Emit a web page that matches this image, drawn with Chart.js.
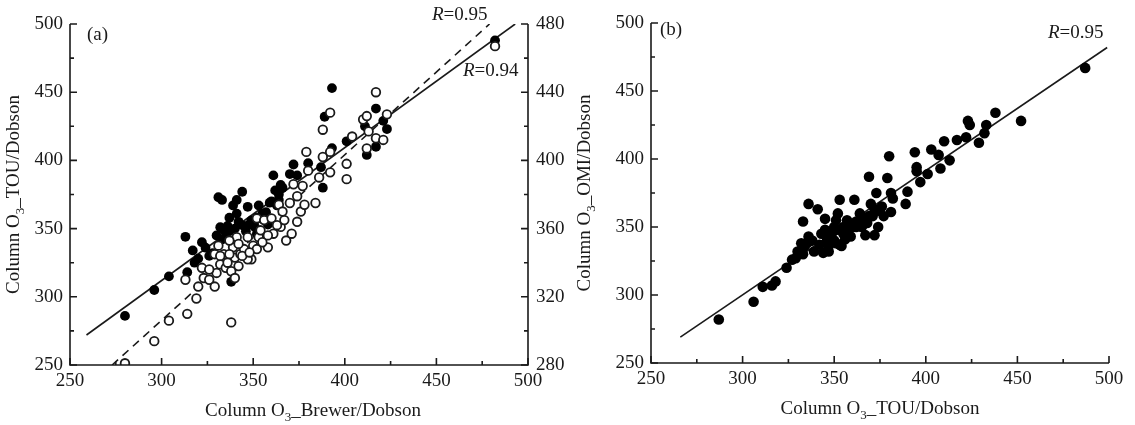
<!DOCTYPE html>
<html>
<head>
<meta charset="utf-8">
<script src="https://cdn.jsdelivr.net/npm/chart.js@4.4.1/dist/chart.umd.min.js"></script>
<style>
  body { margin: 0; background: #fff; }
  #wrapA { position: absolute; left: 0; top: 0; width: 567px; height: 425px; }
  #wrapB { position: absolute; left: 567px; top: 0; width: 568px; height: 425px; }
</style>
</head>
<body>
<div id="wrapA"><canvas id="chartA" width="567" height="425"></canvas></div>
<div id="wrapB"><canvas id="chartB" width="568" height="425"></canvas></div>
<script>
// ticks
const xTicks = [250, 300, 350, 400, 450, 500];
const yTicks = [250, 300, 350, 400, 450, 500];
const y2Ticks = [280, 320, 360, 400, 440, 480];

// (a) Brewer/Dobson vs TOU (filled, left axis)
const touX = [280, 296, 304, 313, 314, 317, 320, 322, 324, 326, 330, 331, 333, 332, 335, 337, 338, 339,
  341, 342, 344, 346, 347, 349, 351, 353, 355, 359, 361, 364, 365, 370, 372, 374, 380, 387, 388, 389,
  393, 393, 401, 412, 411, 417, 417, 423, 421, 482, 337, 341, 351, 362, 352, 358, 364,
  333, 336, 340, 343, 345, 348, 352, 355, 357, 363, 333, 328, 318, 366, 360];
const touY = [286, 305, 315, 344, 318, 334, 328, 340, 336, 330, 345, 373, 371, 351, 347, 348, 311, 367,
  371, 355, 377, 348, 366, 356, 351, 367, 361, 369, 389, 375, 382, 390, 397, 389, 398, 395, 380, 432,
  453, 409, 414, 404, 425, 438, 410, 423, 429, 488, 358, 361, 356, 378, 346, 353, 371,
  350, 352, 350, 353, 352, 353, 358, 357, 362, 367, 342, 332, 325, 380, 370];

// (a) Brewer/Dobson vs OMI (open, right axis)
const omiX = [280, 296, 304, 314, 313, 319, 320, 322, 323, 326, 329, 330, 331, 332, 334, 335, 338, 338,
  339, 340, 341, 342, 343, 345, 347, 349, 350, 352, 353, 354, 356, 358, 360, 361, 364, 365, 366, 368,
  370, 371, 372, 374, 374, 376, 377, 378, 379, 380, 384, 386, 388, 388, 392, 392, 392, 401, 401, 404,
  410, 412, 412, 413, 417, 417, 421, 423, 482, 329, 337, 342, 347, 352, 337,
  332, 336, 344, 348, 355, 358, 363, 367, 326, 340];
const omiY = [281, 294, 306, 310, 330, 319, 326, 337, 331, 330, 326, 334, 350, 339, 345, 337, 305, 335,
  349, 343, 355, 338, 345, 348, 355, 342, 350, 366, 355, 359, 365, 349, 366, 357, 374, 361, 370, 353,
  375, 357, 386, 379, 364, 370, 385, 374, 405, 394, 375, 390, 402, 418, 428, 405, 393, 398, 389, 414,
  424, 426, 407, 417, 440, 413, 412, 427, 467, 345, 345, 351, 342, 348, 353,
  344, 340, 344, 346, 352, 356, 362, 365, 336, 331];

// regression lines (a)
const fitTouX = [259, 493];
const fitTouY = [272, 500];
const fitOmiX = [273, 479];
const fitOmiY = [280, 480];

// (b) TOU vs OMI
const bX = [287, 306, 311, 316, 318, 324, 327, 329, 330, 333, 333, 332, 334, 336, 336, 336, 339, 341,
  344, 345, 345, 346, 348, 350, 351, 352, 353, 351, 354, 355, 357, 358, 360, 361, 362, 364, 366, 367,
  368, 369, 370, 372, 372, 373, 374, 376, 377, 379, 380, 381, 382, 381, 389, 390, 394, 395, 395, 397,
  401, 403, 407, 408, 410, 413, 417, 422, 423, 424, 429, 432, 433, 438, 452, 487, 342, 347, 343, 356,
  359, 365, 369, 338, 346, 349, 352, 355, 358, 362, 366, 371, 374, 350, 347, 353];
const bY = [282, 295, 306, 307, 310, 320, 326, 327, 332, 330, 354, 338, 336, 343, 367, 339, 332, 363,
  331, 356, 348, 338, 344, 350, 355, 360, 370, 338, 336, 345, 355, 348, 350, 370, 354, 360, 356, 344,
  353, 387, 367, 363, 344, 375, 350, 365, 358, 386, 402, 375, 371, 361, 367, 376, 405, 394, 391, 383,
  389, 407, 403, 393, 413, 399, 414, 416, 428, 425, 412, 419, 425, 434, 428, 467, 337, 332, 345, 341,
  343, 350, 358, 340, 342, 346, 348, 350, 352, 350, 352, 358, 362, 340, 336, 337];
const fitBX = [266, 499];
const fitBY = [269, 482];

const pts = (xs, ys) => xs.map((x, i) => ({ x: x, y: ys[i] }));

const FONT = '"Liberation Serif", "Times New Roman", serif';
const INK = '#1a1a1a';

function drawTitle(ctx, parts, cx, cy, rotate) {
  ctx.save();
  ctx.translate(cx, cy);
  if (rotate) ctx.rotate(-Math.PI / 2);
  ctx.font = '19px ' + FONT;
  const big = ctx.measureText(parts[0]).width + ctx.measureText(parts[2]).width;
  ctx.font = '13px ' + FONT;
  const sub = ctx.measureText(parts[1]).width;
  let x = -(big + sub) / 2;
  ctx.textBaseline = 'middle';
  ctx.textAlign = 'left';
  ctx.fillStyle = INK;
  ctx.font = '19px ' + FONT;
  ctx.fillText(parts[0], x, 0);
  x += ctx.measureText(parts[0]).width;
  ctx.font = '13px ' + FONT;
  ctx.fillText(parts[1], x, 7);
  x += sub;
  ctx.font = '19px ' + FONT;
  ctx.fillText(parts[2], x, 0);
  ctx.restore();
}

function drawR(ctx, value, x, y) {
  ctx.save();
  ctx.textBaseline = 'middle';
  ctx.textAlign = 'left';
  ctx.fillStyle = INK;
  ctx.font = 'italic 19px ' + FONT;
  ctx.fillText('R', x, y);
  const w = ctx.measureText('R').width;
  ctx.font = '19px ' + FONT;
  ctx.fillText('=' + value, x + w, y);
  ctx.restore();
}

const mids = arr => arr.slice(1).map((v, i) => (v + arr[i]) / 2);

const framePlugin = {
  id: 'frame',
  afterDraw(chart, args, opts) {
    const ctx = chart.ctx;
    const a = chart.chartArea;
    const sx = chart.scales.x, sy = chart.scales.y, s2 = chart.scales.y2;
    ctx.save();
    ctx.strokeStyle = INK;
    ctx.fillStyle = INK;
    ctx.lineWidth = 1.6;
    ctx.beginPath();
    ctx.moveTo(a.left, a.top); ctx.lineTo(a.left, a.bottom); ctx.lineTo(a.right, a.bottom);
    if (opts.right) ctx.lineTo(a.right, a.top);
    ctx.stroke();

    ctx.beginPath();
    xTicks.forEach(v => { const p = sx.getPixelForValue(v); ctx.moveTo(p, a.bottom); ctx.lineTo(p, a.bottom - 7); });
    mids(xTicks).forEach(v => { const p = sx.getPixelForValue(v); ctx.moveTo(p, a.bottom); ctx.lineTo(p, a.bottom - 4); });
    yTicks.forEach(v => { const p = sy.getPixelForValue(v); ctx.moveTo(a.left, p); ctx.lineTo(a.left + 7, p); });
    mids(yTicks).forEach(v => { const p = sy.getPixelForValue(v); ctx.moveTo(a.left, p); ctx.lineTo(a.left + 4, p); });
    if (opts.right) {
      y2Ticks.forEach(v => { const p = s2.getPixelForValue(v); ctx.moveTo(a.right, p); ctx.lineTo(a.right - 7, p); });
      mids(y2Ticks).forEach(v => { const p = s2.getPixelForValue(v); ctx.moveTo(a.right, p); ctx.lineTo(a.right - 4, p); });
    }
    ctx.stroke();

    ctx.font = '19px ' + FONT;
    ctx.textBaseline = 'middle';
    ctx.textAlign = 'center';
    xTicks.forEach(v => ctx.fillText(String(v), sx.getPixelForValue(v), a.bottom + 16));
    ctx.textAlign = 'right';
    yTicks.forEach(v => ctx.fillText(String(v), a.left - 7, sy.getPixelForValue(v)));
    if (opts.right) {
      ctx.textAlign = 'left';
      y2Ticks.forEach(v => ctx.fillText(String(v), a.right + 8, s2.getPixelForValue(v)));
    }

    ctx.textAlign = 'left';
    ctx.fillText(opts.tag, opts.tagX, opts.tagY);
    ctx.restore();

    drawTitle(ctx, opts.xTitle, opts.xTitleX, a.bottom + 46, false);
    drawTitle(ctx, opts.yTitle, opts.yTitleX, (a.top + a.bottom) / 2, true);
    opts.labels.forEach(l => drawR(ctx, l.text, l.x, l.y));
  }
};

Chart.defaults.animation = false;

const dot = r => ({ pointRadius: r, pointHoverRadius: r, showLine: false });

new Chart(document.getElementById('chartA'), {
  type: 'scatter',
  data: {
    datasets: [
      { label: 'OMI', data: pts(omiX, omiY), yAxisID: 'y2', ...dot(4.3), pointBackgroundColor: '#fff', pointBorderColor: INK, pointBorderWidth: 1.8 },
      { label: 'TOU', data: pts(touX, touY), yAxisID: 'y', ...dot(4.9), pointBackgroundColor: '#000', pointBorderColor: '#000', pointBorderWidth: 0 },
      { type: 'line', label: 'fit OMI', data: pts(fitOmiX, fitOmiY), yAxisID: 'y2', pointRadius: 0, borderColor: INK, borderWidth: 1.6, borderDash: [8, 6], fill: false },
      { type: 'line', label: 'fit TOU', data: pts(fitTouX, fitTouY), yAxisID: 'y', pointRadius: 0, borderColor: INK, borderWidth: 1.6, fill: false }
    ]
  },
  options: {
    responsive: false,
    layout: { padding: { left: 70, right: 39, top: 24, bottom: 60 } },
    scales: {
      x: { type: 'linear', min: 250, max: 500, display: false },
      y: { type: 'linear', min: 250, max: 500, display: false },
      y2: { type: 'linear', min: 280, max: 480, display: false, position: 'right' }
    },
    plugins: {
      legend: { display: false },
      tooltip: { enabled: false },
      frame: {
        right: true,
        tag: '(a)', tagX: 87, tagY: 35,
        xTitle: ['Column O', '3', '_Brewer/Dobson'], xTitleX: 313,
        yTitle: ['Column O', '3', '_TOU/Dobson'], yTitleX: 14,
        labels: [{ text: '0.95', x: 432, y: 15 }, { text: '0.94', x: 463, y: 71 }]
      }
    }
  },
  plugins: [framePlugin]
});

new Chart(document.getElementById('chartB'), {
  type: 'scatter',
  data: {
    datasets: [
      { label: 'TOU-OMI', data: pts(bX, bY), ...dot(5.3), pointBackgroundColor: '#000', pointBorderColor: '#000', pointBorderWidth: 0 },
      { type: 'line', label: 'fit', data: pts(fitBX, fitBY), pointRadius: 0, borderColor: INK, borderWidth: 1.6, fill: false }
    ]
  },
  options: {
    responsive: false,
    layout: { padding: { left: 84, right: 26, top: 23, bottom: 62 } },
    scales: {
      x: { type: 'linear', min: 250, max: 500, display: false },
      y: { type: 'linear', min: 250, max: 500, display: false }
    },
    plugins: {
      legend: { display: false },
      tooltip: { enabled: false },
      frame: {
        right: false,
        tag: '(b)', tagX: 93, tagY: 30,
        xTitle: ['Column O', '3', '_TOU/Dobson'], xTitleX: 313,
        yTitle: ['Column O', '3', '_OMI/Dobson'], yTitleX: 18,
        labels: [{ text: '0.95', x: 481, y: 33 }]
      }
    }
  },
  plugins: [framePlugin]
});
</script>
</body>
</html>
